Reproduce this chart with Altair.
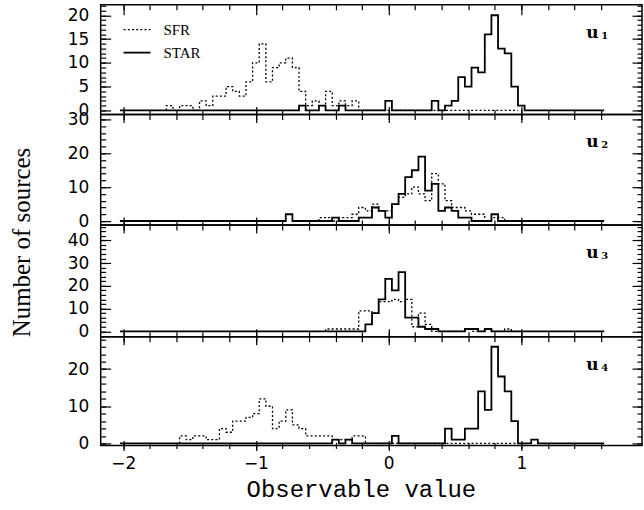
import altair as alt
import pandas as pd

BIN = 0.05
X_DOMAIN = [-2.17, 1.91]
X_MAJOR = [-2, -1, 0, 1]
X_MINOR = [-2.0, -1.8, -1.6, -1.4, -1.2, -1.0, -0.8, -0.6, -0.4, -0.2,
           0.0, 0.2, 0.4, 0.6, 0.8, 1.0, 1.2, 1.4, 1.6]
STAR_SPAN = [-2.0, 1.6]
SFR_SPAN_END = 0.95

# ---- panel u1 ----
U1_SFR_START = -1.65
U1_SFR = [1, 0, 1, 1, 0, 2, 1, 3, 3, 5, 4, 3, 6, 10, 14, 6, 9, 10, 11, 9,
          4, 1, 2, 1, 4, 1, 2, 1, 2, 0]
U1_STAR_START = -0.65
U1_STAR = [1, 0, 0, 1, 0, 0, 1, 0, 0, 0, 0, 0, 0, 2, 0, 0, 0, 0, 0, 0,
           2, 0, 1, 2, 7, 5, 9, 8, 16, 20, 13, 12, 5, 1]
U1_Y_DOMAIN = [-0.84, 22.2]
U1_Y_MAJOR = [0, 5, 10, 15, 20]
U1_Y_MINOR = [0, 1, 2, 3, 4, 5, 6, 7, 8, 9, 10, 11, 12, 13, 14, 15, 16, 17, 18, 19, 20, 21, 22]

# ---- panel u2 ----
U2_SFR_START = -0.5
U2_SFR = [1, 1, 0, 1, 1, 2, 4, 3, 5, 3, 3, 5, 7, 8, 10, 8, 6, 14, 11, 6,
          4, 4, 3, 2, 2, 0, 1, 1, 0, 0, 1]
U2_STAR_START = -0.75
U2_STAR = [2, 0, 0, 0, 0, 0, 0, 1, 0, 0, 0, 1, 1, 4, 3, 1, 5, 8, 13, 15,
           19, 9, 11, 3, 4, 3, 1, 1, 0, 0, 0, 2]
U2_Y_DOMAIN = [-1.2, 31.5]
U2_Y_MAJOR = [0, 10, 20, 30]
U2_Y_MINOR = [0, 2, 4, 6, 8, 10, 12, 14, 16, 18, 20, 22, 24, 26, 28, 30]

# ---- panel u3 ----
U3_SFR_START = -0.45
U3_SFR = [1, 1, 1, 1, 1, 9, 9, 8, 13, 13, 14, 13, 14, 2, 8, 3, 0, 0, 0, 0,
          0, 1, 0, 0, 1, 0, 0, 1]
U3_STAR_START = -0.15
U3_STAR = [3, 8, 14, 23, 18, 26, 6, 6, 2, 1, 1, 0, 0, 0, 0, 1, 1, 0, 1]
U3_Y_DOMAIN = [-2.4, 46.7]
U3_Y_MAJOR = [0, 10, 20, 30, 40]
U3_Y_MINOR = [0, 2, 4, 6, 8, 10, 12, 14, 16, 18, 20, 22, 24, 26, 28, 30,
              32, 34, 36, 38, 40, 42, 44, 46]

# ---- panel u4 ----
U4_SFR_START = -1.55
U4_SFR = [2, 1, 2, 2, 1, 1, 4, 3, 6, 6, 7, 8, 12, 10, 4, 6, 9, 5, 4, 2,
          2, 2, 2, 1, 1, 1, 2, 2]
U4_STAR_START = -0.4
U4_STAR = [1, 0, 1, 0, 0, 0, 0, 0, 0, 2, 0, 0, 0, 0, 0, 0, 0, 4, 1, 1,
           4, 4, 14, 9, 26, 18, 14, 6, 0, 0, 1]
U4_Y_DOMAIN = [-0.54, 28.7]
U4_Y_MAJOR = [0, 10, 20]
U4_Y_MINOR = [0, 2, 4, 6, 8, 10, 12, 14, 16, 18, 20, 22, 24, 26, 28]

PANEL_LABELS = ["1", "2", "3", "4"]
LEGEND_NAMES = ["SFR", "STAR"]
Y_TITLE = "Number of sources"
X_TITLE = "Observable value"

PANELS = [
    dict(sfr=(U1_SFR_START, U1_SFR), star=(U1_STAR_START, U1_STAR),
         ydom=U1_Y_DOMAIN, ymaj=U1_Y_MAJOR, ymin=U1_Y_MINOR, h=110),
    dict(sfr=(U2_SFR_START, U2_SFR), star=(U2_STAR_START, U2_STAR),
         ydom=U2_Y_DOMAIN, ymaj=U2_Y_MAJOR, ymin=U2_Y_MINOR, h=111),
    dict(sfr=(U3_SFR_START, U3_SFR), star=(U3_STAR_START, U3_STAR),
         ydom=U3_Y_DOMAIN, ymaj=U3_Y_MAJOR, ymin=U3_Y_MINOR, h=112),
    dict(sfr=(U4_SFR_START, U4_SFR), star=(U4_STAR_START, U4_STAR),
         ydom=U4_Y_DOMAIN, ymaj=U4_Y_MAJOR, ymin=U4_Y_MINOR, h=109),
]

W = 543
TICK_FONT = "DejaVu Sans"
TICK_SIZE = 17


def hist_points(start, counts, lo, hi):
    n = int(round((hi - lo) / BIN)) + 1
    off = int(round((start - lo) / BIN))
    rows = [(lo - BIN / 2, 0)]
    for i in range(n):
        c = lo + i * BIN
        j = i - off
        v = counts[j] if 0 <= j < len(counts) else 0
        rows.append((c - BIN / 2, v))
    rows.append((hi + BIN / 2, 0))
    return pd.DataFrame({"x": [r[0] for r in rows], "y": [r[1] for r in rows],
                         "i": list(range(len(rows)))})


def xaxis(orient, values, size, offset=0, labels=False, **kw):
    return alt.Axis(orient=orient, values=values, tickSize=size, offset=offset,
                    labels=labels, domain=False, grid=False, ticks=True,
                    tickColor="black", tickWidth=1.2, **kw)


def make_panel(k, p):
    first = k == 0
    last = k == len(PANELS) - 1
    xs = alt.Scale(domain=X_DOMAIN, nice=False, zero=False)
    ys = alt.Scale(domain=p["ydom"], nice=False, zero=False)

    sfr_df = hist_points(p["sfr"][0], p["sfr"][1], p["sfr"][0], SFR_SPAN_END)
    star_df = hist_points(p["star"][0], p["star"][1], STAR_SPAN[0], STAR_SPAN[1])

    # x axes
    if last:
        bx_min = xaxis("bottom", X_MINOR, 6, offset=-3, title=None)
        bx_maj = xaxis("bottom", X_MAJOR, 10, offset=-5, labels=True,
                       labelFont=TICK_FONT, labelFontSize=TICK_SIZE, labelPadding=5,
                       labelColor="black", labelFlush=False,
                       title=X_TITLE, titleFont="Liberation Mono", titleFontSize=24,
                       titleFontWeight="normal", titleColor="black",
                       titleX=261, titleY=56, titleAlign="center",
                       titleBaseline="alphabetic", titleAnchor="middle")
    else:
        bx_min = xaxis("bottom", X_MINOR, 5, title=None)
        bx_maj = xaxis("bottom", X_MAJOR, 8, title=None)
    if first:
        tx_min = xaxis("top", X_MINOR, 5, offset=-5, title=None)
        tx_maj = xaxis("top", X_MAJOR, 10, offset=-10, title=None)
    else:
        tx_min = xaxis("top", X_MINOR, 5, title=None)
        tx_maj = xaxis("top", X_MAJOR, 8, title=None)

    # y axes
    ly_min = xaxis("left", p["ymin"], 5, offset=-5, title=None)
    if k == 1:
        ly_maj = xaxis("left", p["ymaj"], 10, offset=-10, labels=True,
                       labelFont=TICK_FONT, labelFontSize=TICK_SIZE, labelPadding=12,
                       labelColor="black",
                       title=Y_TITLE, titleFont="Liberation Serif", titleFontSize=25,
                       titleFontWeight="normal", titleColor="black",
                       titleX=-89, titleY=128, titleAngle=270, titleAlign="center",
                       titleBaseline="middle")
    else:
        ly_maj = xaxis("left", p["ymaj"], 10, offset=-10, labels=True,
                       labelFont=TICK_FONT, labelFontSize=TICK_SIZE, labelPadding=12,
                       labelColor="black", title=None)
    ry_min = xaxis("right", p["ymin"], 5, offset=-5, title=None)
    ry_maj = xaxis("right", p["ymaj"], 10, offset=-10, title=None)

    sfr = alt.Chart(sfr_df).mark_line(
        interpolate="step-after", color="black", strokeWidth=1.3, strokeDash=[2, 2.2]
    ).encode(
        x=alt.X("x:Q", scale=xs, axis=bx_min),
        y=alt.Y("y:Q", scale=ys, axis=ly_min),
        order=alt.Order("i:Q"),
    )
    star = alt.Chart(star_df).mark_line(
        interpolate="step-after", color="black", strokeWidth=1.8
    ).encode(
        x=alt.X("x:Q", scale=xs, axis=bx_maj),
        y=alt.Y("y:Q", scale=ys, axis=ly_maj),
        order=alt.Order("i:Q"),
    )
    carrier1 = alt.Chart(star_df).mark_line(opacity=0).encode(
        x=alt.X("x:Q", scale=xs, axis=tx_min),
        y=alt.Y("y:Q", scale=ys, axis=ry_min),
        order=alt.Order("i:Q"),
    )
    carrier2 = alt.Chart(star_df).mark_line(opacity=0).encode(
        x=alt.X("x:Q", scale=xs, axis=tx_maj),
        y=alt.Y("y:Q", scale=ys, axis=ry_maj),
        order=alt.Order("i:Q"),
    )

    lab_df = pd.DataFrame({"u": ["u"], "sub": [PANEL_LABELS[k]]})
    u_text = alt.Chart(lab_df).mark_text(
        font="DejaVu Serif", fontWeight="bold", fontSize=17, align="left",
        baseline="alphabetic", color="black"
    ).encode(text="u:N", x=alt.value(487), y=alt.value(33))
    sub_text = alt.Chart(lab_df).mark_text(
        font="DejaVu Serif", fontWeight="bold", fontSize=10, align="left",
        baseline="alphabetic", color="black"
    ).encode(text="sub:N", x=alt.value(502), y=alt.value(34))

    layers = [sfr, star, carrier1, carrier2, u_text, sub_text]

    if first:
        sfr_df1 = pd.DataFrame({"name": [LEGEND_NAMES[0]]})
        star_df1 = pd.DataFrame({"name": [LEGEND_NAMES[1]]})
        leg_sfr = alt.Chart(sfr_df1).mark_rule(
            color="black", strokeWidth=1.3, strokeDash=[2, 2.2]
        ).encode(x=alt.value(23), x2=alt.value(50), y=alt.value(25))
        leg_star = alt.Chart(star_df1).mark_rule(
            color="black", strokeWidth=1.8
        ).encode(x=alt.value(23), x2=alt.value(50), y=alt.value(48))
        txt_sfr = alt.Chart(sfr_df1).mark_text(
            font="Liberation Serif", fontSize=15, align="left", baseline="middle",
            color="black"
        ).encode(text="name:N", x=alt.value(63), y=alt.value(25))
        txt_star = alt.Chart(star_df1).mark_text(
            font="Liberation Serif", fontSize=15, align="left", baseline="middle",
            color="black"
        ).encode(text="name:N", x=alt.value(63), y=alt.value(48))
        layers += [leg_sfr, leg_star, txt_sfr, txt_star]

    return alt.layer(*layers).resolve_axis(x="independent", y="independent").properties(
        width=W, height=p["h"]
    )


chart = alt.vconcat(*[make_panel(k, p) for k, p in enumerate(PANELS)],
                    spacing=0, bounds="flush").properties(
    padding={"left": 9, "top": 2, "right": 0, "bottom": 0}
).configure_view(stroke="black", strokeWidth=1.5).configure_axis(grid=False)

chart.save("out.html", embed_options={"renderer": "svg", "actions": False})
